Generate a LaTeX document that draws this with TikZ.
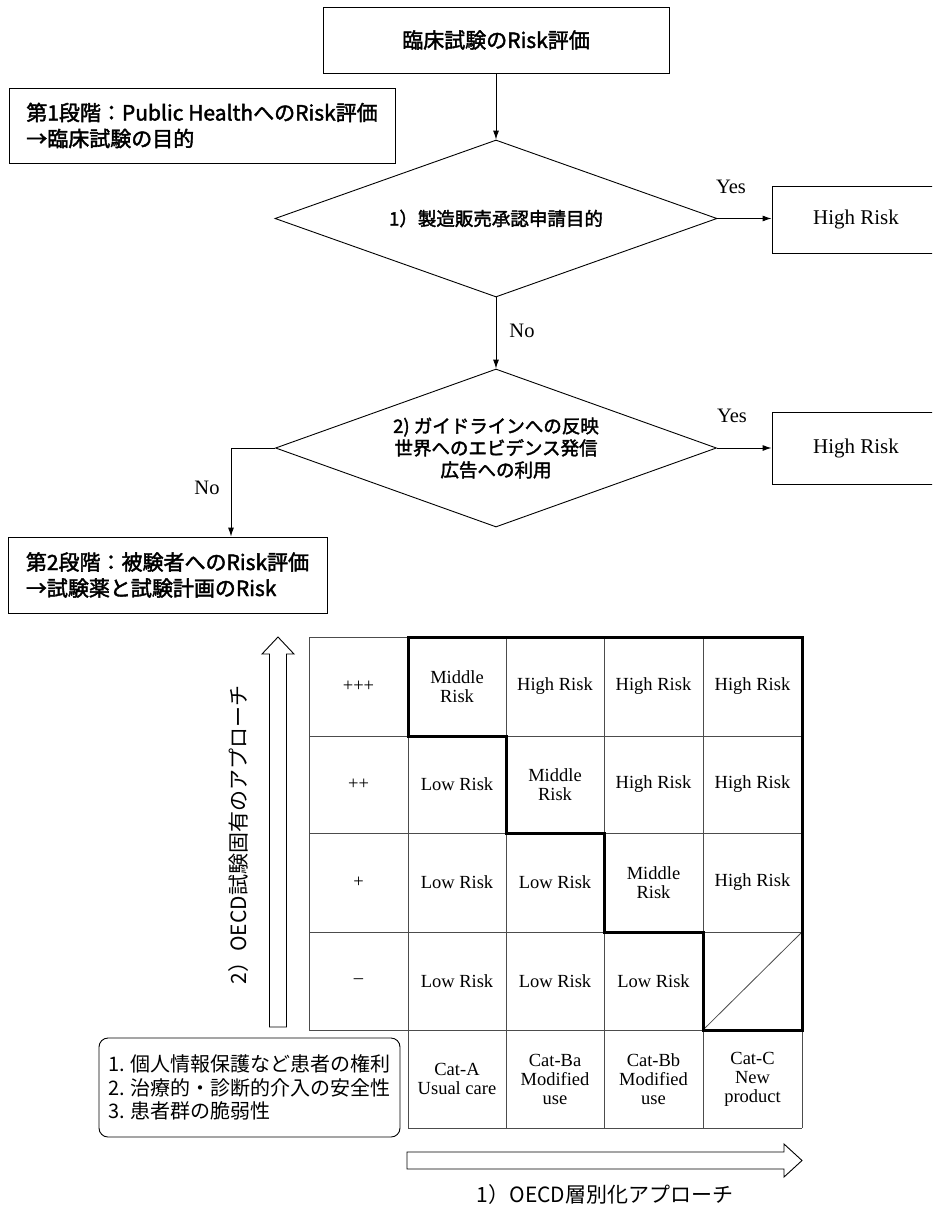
\documentclass[tikz,border=0pt]{standalone}
\usepackage{fontspec}
\setmainfont{Liberation Serif}
\newfontfamily\jp{Noto Sans CJK JP}
\newfontfamily\jpm{Noto Sans CJK JP}[FakeBold=2]
\usetikzlibrary{shapes.geometric,arrows.meta}
\begin{document}
\begin{tikzpicture}[x=1pt,y=-1pt,
  line width=0.9pt,
  arr/.style={-{Latex[length=9pt,width=6pt]}, line width=0.9pt},
  jbox/.style={draw, inner sep=0pt, align=left, font=\jpm\fontsize{21}{26}\selectfont},
  dia/.style={draw, diamond, aspect=2.8, inner sep=0pt, align=center, font=\jpm\fontsize{18.5}{22}\selectfont},
  rbox/.style={draw, inner sep=0pt, font=\fontsize{21}{24}\selectfont},
  lbl/.style={inner sep=0pt, font=\fontsize{20.5}{24}\selectfont},
  cell/.style={inner sep=0pt, align=center, font=\fontsize{18.5}{18.5}\selectfont},
  gridline/.style={draw=black!70, line width=0.8pt},
  stair/.style={line width=3pt, line join=miter},
  hollow/.style={draw, fill=white, line width=0.9pt},
  jlabel/.style={inner sep=0pt, font=\jp\fontsize{21}{24}\selectfont},
  critbox/.style={draw, rounded corners=9pt, inner sep=0pt, align=left, font=\jp\fontsize{20}{23.5}\selectfont}
]
\clip (0,0) rectangle (932,1207);
\fill[white] (0,0) rectangle (932,1207);

% ---- flowchart ----
\node[jbox, minimum width=346pt, minimum height=66pt] (top) at (496,40) {臨床試験のRisk評価};
\node[jbox, minimum width=386pt, minimum height=75pt] (p1) at (202,125.5) {第1段階：Public HealthへのRisk評価\\→臨床試験の目的};
\node[dia, minimum width=442pt, minimum height=157pt] (d1) at (496,218.5) {1）製造販売承認申請目的};
\node[dia, minimum width=441pt, minimum height=158pt] (d2) at (496,448) {2) ガイドラインへの反映\\世界へのエビデンス発信\\広告への利用};
\node[rbox, minimum width=168pt, minimum height=67pt] (hr1) at (856,219.5) {High Risk};
\node[rbox, minimum width=168pt, minimum height=72pt] (hr2) at (856,448) {High Risk};
\node[jbox, minimum width=319pt, minimum height=76pt] (p2) at (167.5,575) {第2段階：被験者へのRisk評価\\→試験薬と試験計画のRisk};
\coordinate (nb) at (231,0);

\draw[arr] (top) -- (d1);
\draw[arr] (d1) -- (d2);
\draw[arr] (d1.east) -- (d1.east -| hr1.west);
\draw[arr] (d2.east) -- (d2.east -| hr2.west);
\draw[arr] (d2.west) -| (p2.north -| nb);

\node[lbl] (yes1) at (731,187) {Yes};
\node[lbl] (no1) at (522,331) {No};
\node[lbl] (yes2) at (732,416) {Yes};
\node[lbl] (no2) at (207,488) {No};

% ---- table grid ----
\foreach \y in {637,736,833,932,1030} \draw[gridline] (309,\y) -- (802,\y);
\draw[gridline] (408,1128) -- (802,1128);
\draw[gridline] (309,637) -- (309,1030);
\foreach \x in {408,506,604,703,802} \draw[gridline] (\x,637) -- (\x,1128);
\draw[gridline] (703,1030) -- (802,932);
\draw[stair] (408,637) -- (802,637) -- (802,1030) -- (703,1030) -- (703,932) -- (604,932) -- (604,833) -- (506,833) -- (506,736) -- (408,736) -- cycle;

% row labels
\node[cell] (l1) at (358.5,686.5) {+++};
\node[cell] (l2) at (358.5,784.5) {++};
\node[cell] (l3) at (358.5,882.5) {+};
\node[cell] (l4) at (358.5,981) {–};
% row 1
\node[cell] (c11) at (457,686.5) {Middle\\Risk};
\node[cell] (c12) at (555,686.5) {High Risk};
\node[cell] (c13) at (653.5,686.5) {High Risk};
\node[cell] (c14) at (752.5,686.5) {High Risk};
% row 2
\node[cell] (c21) at (457,784.5) {Low Risk};
\node[cell] (c22) at (555,784.5) {Middle\\Risk};
\node[cell] (c23) at (653.5,784.5) {High Risk};
\node[cell] (c24) at (752.5,784.5) {High Risk};
% row 3
\node[cell] (c31) at (457,882.5) {Low Risk};
\node[cell] (c32) at (555,882.5) {Low Risk};
\node[cell] (c33) at (653.5,882.5) {Middle\\Risk};
\node[cell] (c34) at (752.5,882.5) {High Risk};
% row 4
\node[cell] (c41) at (457,981) {Low Risk};
\node[cell] (c42) at (555,981) {Low Risk};
\node[cell] (c43) at (653.5,981) {Low Risk};
% header
\node[cell, font=\fontsize{18.5}{19}\selectfont] (h1) at (457,1079) {Cat-A\\Usual care};
\node[cell, font=\fontsize{18.5}{19}\selectfont] (h2) at (555,1079) {Cat-Ba\\Modified\\use};
\node[cell, font=\fontsize{18.5}{19}\selectfont] (h3) at (653.5,1079) {Cat-Bb\\Modified\\use};
\node[cell, font=\fontsize{18.5}{19}\selectfont] (h4) at (752.5,1079) {Cat-C\\New\\product};

% ---- hollow arrows ----
\draw[hollow] (269.5,1027) -- (269.5,654) -- (262,654) -- (278,637) -- (294,654) -- (286.5,654) -- (286.5,1027) -- cycle;
\draw[hollow] (407,1152) -- (784,1152) -- (784,1144) -- (802,1160.5) -- (784,1177) -- (784,1169) -- (407,1169) -- cycle;
\node[jlabel, rotate=90] (ylab) at (239,835) {2）OECD試験固有のアプローチ};
\node[jlabel] (xlab) at (605,1195) {1）OECD層別化アプローチ};

% ---- criteria box ----
\node[critbox, minimum width=301pt, minimum height=99pt] (crit) at (249.5,1087.5) {1. 個人情報保護など患者の権利\\2. 治療的・診断的介入の安全性\\3. 患者群の脆弱性};
\end{tikzpicture}
\end{document}
